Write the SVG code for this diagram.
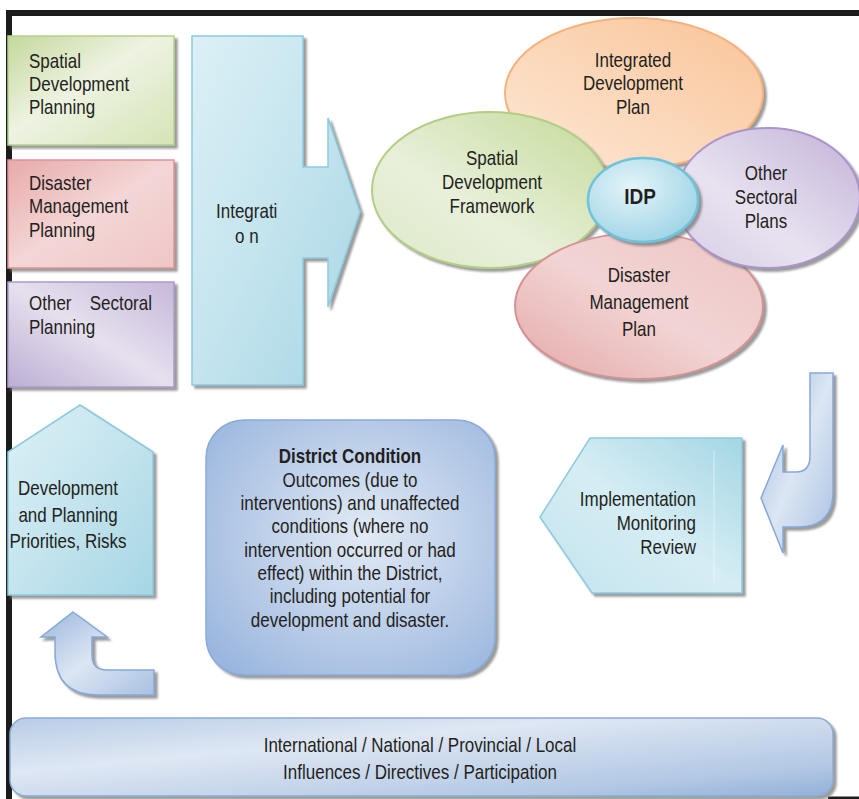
<svg xmlns="http://www.w3.org/2000/svg" width="859" height="799" viewBox="0 0 859 799">
<defs>
<style>
text { font-family: "Liberation Sans", Arial, sans-serif; font-size: 17px; fill: #231f20; transform-box: fill-box; transform-origin: 50% 78%; transform: scaleY(1.2); }
.c { text-anchor: middle; }
.e { text-anchor: end; }
.b { font-weight: bold; }
.frame { stroke: #1c1c1c; fill: none; }
</style>
<filter id="sh" x="-10%" y="-10%" width="130%" height="130%"><feDropShadow dx="3" dy="3" stdDeviation="0.8" flood-color="#7a7a7a" flood-opacity="0.75"/></filter>
<linearGradient id="gGreen" x1="0" y1="0" x2="1" y2="1"><stop offset="0" stop-color="#c4d89c"/><stop offset="0.45" stop-color="#eef3e2"/><stop offset="1" stop-color="#d5e4b6"/></linearGradient>
<linearGradient id="gRed" x1="0" y1="0" x2="1" y2="1"><stop offset="0" stop-color="#e8aaaa"/><stop offset="0.5" stop-color="#f4d6d6"/><stop offset="1" stop-color="#efc6c6"/></linearGradient>
<linearGradient id="gPurple" x1="0" y1="1" x2="1" y2="0"><stop offset="0" stop-color="#bcaed4"/><stop offset="0.5" stop-color="#e6e0ee"/><stop offset="1" stop-color="#c6b8da"/></linearGradient>
<linearGradient id="gCyan" x1="0" y1="0" x2="1" y2="1"><stop offset="0" stop-color="#dcf0f6"/><stop offset="0.5" stop-color="#c4e4ee"/><stop offset="1" stop-color="#a6d6e4"/></linearGradient>
<linearGradient id="gCyan2" x1="1" y1="0" x2="0" y2="1"><stop offset="0" stop-color="#a4d6e4"/><stop offset="0.5" stop-color="#d6edf4"/><stop offset="1" stop-color="#c2e3ee"/></linearGradient>
<linearGradient id="gOrange" x1="0" y1="1" x2="1" y2="0"><stop offset="0" stop-color="#fde8d6"/><stop offset="1" stop-color="#f9c498"/></linearGradient>
<linearGradient id="gEGreen" x1="1" y1="0" x2="0" y2="1"><stop offset="0" stop-color="#c4da98"/><stop offset="0.6" stop-color="#e8f0da"/><stop offset="1" stop-color="#dde9c8"/></linearGradient>
<linearGradient id="gEPurple" x1="1" y1="0" x2="0" y2="1"><stop offset="0" stop-color="#c2b2d8"/><stop offset="0.6" stop-color="#e8e2f0"/><stop offset="1" stop-color="#d6cce4"/></linearGradient>
<linearGradient id="gERed" x1="0" y1="1" x2="1" y2="0"><stop offset="0" stop-color="#e4a8a8"/><stop offset="0.5" stop-color="#f2d4d4"/><stop offset="1" stop-color="#eec4c4"/></linearGradient>
<radialGradient id="gIdp" cx="0.4" cy="0.35" r="0.7"><stop offset="0" stop-color="#e4f4f9"/><stop offset="1" stop-color="#9ed4e6"/></radialGradient>
<radialGradient id="gDist" cx="0.55" cy="0.45" r="0.7"><stop offset="0" stop-color="#e2eaf5"/><stop offset="1" stop-color="#9ab6de"/></radialGradient>
<linearGradient id="gBar" x1="0" y1="0" x2="1" y2="1"><stop offset="0" stop-color="#b8cce6"/><stop offset="0.35" stop-color="#dfe7f3"/><stop offset="0.8" stop-color="#b3c8e4"/><stop offset="1" stop-color="#92b0d8"/></linearGradient>
<linearGradient id="gArrow" x1="0" y1="0" x2="1" y2="1"><stop offset="0" stop-color="#9ab6de"/><stop offset="0.5" stop-color="#dce6f3"/><stop offset="1" stop-color="#a8c0e2"/></linearGradient>
</defs>
<rect width="859" height="799" fill="#ffffff"/>
<path class="frame" d="M9,799 V13 H859" stroke-width="6"/>
<line class="frame" x1="828" y1="798" x2="859" y2="798" stroke-width="3"/>

<g id="connectors">
<path id="arrow-review" d="M810,373 L833,373 L833,492 Q833,527 798,527 L783,527 L783,553 L761,498 L783,445 L783,472 L796,472 Q810,472 810,456 Z" fill="url(#gArrow)" stroke="#86a8d6" stroke-width="1.5" filter="url(#sh)"/>
<path id="arrow-priorities" d="M73,612 L107,637 L92,637 L92,655 Q92,670 107,670 L154,670 L154,695 L98,695 Q55,695 55,652 L55,637 L41,637 Z" fill="url(#gArrow)" stroke="#86a8d6" stroke-width="1.5" filter="url(#sh)"/>
</g>

<g id="box-spatial">
<rect x="8" y="36" width="166" height="109" fill="url(#gGreen)" stroke="#b4cf8c" stroke-width="1.5" filter="url(#sh)"/>
<text x="29" y="68">Spatial</text>
<text x="29" y="91">Development</text>
<text x="29" y="114">Planning</text>
</g>
<g id="box-disaster">
<rect x="8" y="160" width="166" height="108" fill="url(#gRed)" stroke="#dc9494" stroke-width="1.5" filter="url(#sh)"/>
<text x="29" y="190">Disaster</text>
<text x="29" y="213">Management</text>
<text x="29" y="237">Planning</text>
</g>
<g id="box-other">
<rect x="8" y="282" width="166" height="105" fill="url(#gPurple)" stroke="#ab9cc8" stroke-width="1.5" filter="url(#sh)"/>
<text x="29" y="310">Other</text>
<text x="152" y="310" class="e">Sectoral</text>
<text x="29" y="334">Planning</text>
</g>

<g id="integration">
<path d="M192,36 L303,36 L303,167 L328,167 L328,118 L360,212 L328,307 L328,258 L303,258 L303,385 L192,385 Z" fill="url(#gCyan)" stroke="#8ccade" stroke-width="1.5" filter="url(#sh)"/>
<text x="216" y="218">Integrati</text>
<text x="235" y="243">o n</text>
</g>

<g id="ellipse-idp-plan">
<ellipse cx="634" cy="93" rx="129" ry="75" fill="url(#gOrange)" stroke="#f6b27c" stroke-width="2" filter="url(#sh)"/>
<text x="633" y="67" class="c">Integrated</text>
<text x="633" y="90" class="c">Development</text>
<text x="633" y="114" class="c">Plan</text>
</g>
<g id="ellipse-sdf">
<ellipse cx="490" cy="190" rx="118" ry="78" fill="url(#gEGreen)" stroke="#b2cd84" stroke-width="2" filter="url(#sh)"/>
<text x="492" y="165" class="c">Spatial</text>
<text x="492" y="189" class="c">Development</text>
<text x="492" y="213" class="c">Framework</text>
</g>
<g id="ellipse-dmp">
<ellipse cx="639" cy="306" rx="124" ry="73" fill="url(#gERed)" stroke="#d69292" stroke-width="2" filter="url(#sh)"/>
<text x="639" y="282" class="c">Disaster</text>
<text x="639" y="309" class="c">Management</text>
<text x="639" y="336" class="c">Plan</text>
</g>
<g id="ellipse-other">
<ellipse cx="768" cy="198" rx="92" ry="70" fill="url(#gEPurple)" stroke="#aa94ca" stroke-width="2" filter="url(#sh)"/>
<text x="766" y="180" class="c">Other</text>
<text x="766" y="204" class="c">Sectoral</text>
<text x="766" y="228" class="c">Plans</text>
</g>
<g id="ellipse-idp">
<ellipse cx="643" cy="200" rx="55" ry="42" fill="url(#gIdp)" stroke="#70c2da" stroke-width="2.5" filter="url(#sh)"/>
<text x="640" y="204" class="c b" style="font-size:19px">IDP</text>
</g>

<g id="implementation">
<path d="M590,438 L742,438 L742,593 L592,593 L540,517 Z" fill="url(#gCyan2)" stroke="#8ccade" stroke-width="1.5" filter="url(#sh)"/>
<line x1="714" y1="450" x2="714" y2="583" stroke="#ffffff" stroke-opacity="0.5"/>
<text x="696" y="506" class="e">Implementation</text>
<text x="696" y="530" class="e">Monitoring</text>
<text x="696" y="554" class="e">Review</text>
</g>

<g id="priorities">
<path d="M80,405 L153,452 L153,595 L8,595 L8,452 Z" fill="url(#gCyan)" stroke="#8ccade" stroke-width="1.5" filter="url(#sh)"/>
<text x="68" y="495" class="c">Development</text>
<text x="68" y="522" class="c">and Planning</text>
<text x="68" y="548" class="c">Priorities, Risks</text>
</g>

<g id="district">
<rect x="206" y="420" width="289" height="255" rx="38" ry="38" fill="url(#gDist)" stroke="#8aaad8" stroke-width="1.5" filter="url(#sh)"/>
<text x="350" y="463" class="c b">District Condition</text>
<text x="350" y="487" class="c">Outcomes (due to</text>
<text x="350" y="510" class="c">interventions) and unaffected</text>
<text x="350" y="533" class="c">conditions (where no</text>
<text x="350" y="557" class="c">intervention occurred or had</text>
<text x="350" y="580" class="c">effect) within the District,</text>
<text x="350" y="603" class="c">including potential for</text>
<text x="350" y="627" class="c">development and disaster.</text>
</g>

<g id="influences">
<rect x="10" y="718" width="823" height="78" rx="16" ry="16" fill="url(#gBar)" stroke="#8aaad6" stroke-width="1.5" filter="url(#sh)"/>
<text x="420" y="752" class="c">International / National / Provincial / Local</text>
<text x="420" y="779" class="c">Influences / Directives / Participation</text>
</g>
</svg>
